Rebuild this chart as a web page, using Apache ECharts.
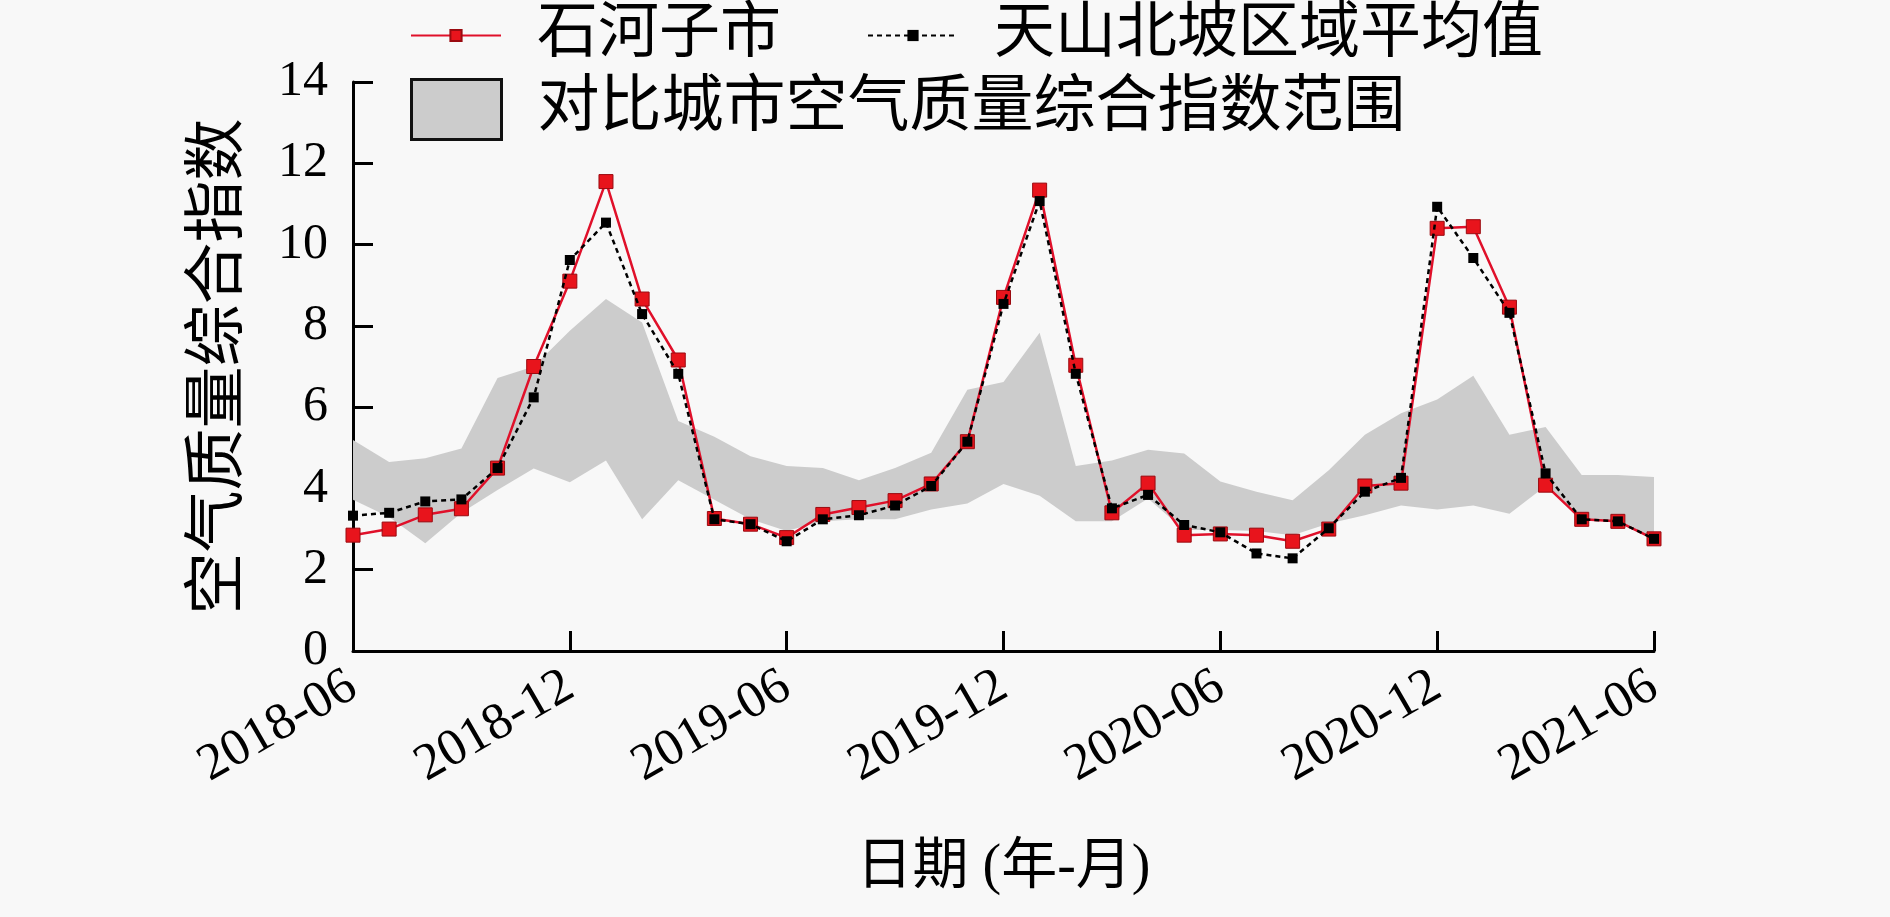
<!DOCTYPE html>
<html>
<head>
<meta charset="utf-8">
<script src="https://cdn.jsdelivr.net/npm/echarts@6/dist/echarts.min.js"></script>
<style>
html,body{margin:0;padding:0;background:#f8f8f8;}
#main{width:1890px;height:917px;}
</style>
</head>
<body>
<div id="main"></div>
<script>
const months = [
  '2018-06','2018-07','2018-08','2018-09','2018-10','2018-11','2018-12',
  '2019-01','2019-02','2019-03','2019-04','2019-05','2019-06',
  '2019-07','2019-08','2019-09','2019-10','2019-11','2019-12',
  '2020-01','2020-02','2020-03','2020-04','2020-05','2020-06',
  '2020-07','2020-08','2020-09','2020-10','2020-11','2020-12',
  '2021-01','2021-02','2021-03','2021-04','2021-05','2021-06'
];
const shihezi = [
  2.85, 3.00, 3.35, 3.50, 4.50, 7.00, 9.10,
  11.55, 8.66, 7.16, 3.26, 3.12, 2.79,
  3.36, 3.53, 3.70, 4.11, 5.15, 8.70,
  11.34, 7.03, 3.40, 4.13, 2.85, 2.88,
  2.85, 2.70, 3.00, 4.06, 4.13, 10.40,
  10.44, 8.46, 4.08, 3.24, 3.19, 2.76
];
const tianshanAvg = [
  3.33, 3.40, 3.68, 3.73, 4.50, 6.24, 9.62,
  10.54, 8.29, 6.82, 3.24, 3.12, 2.70,
  3.24, 3.34, 3.58, 4.06, 5.15, 8.54,
  11.07, 6.82, 3.51, 3.84, 3.10, 2.92,
  2.40, 2.28, 3.02, 3.92, 4.26, 10.93,
  9.67, 8.32, 4.37, 3.24, 3.19, 2.76
];
const rangeUpper = [
  5.19, 4.65, 4.74, 4.98, 6.72, 7.00, 7.88,
  8.66, 8.08, 5.66, 5.27, 4.79, 4.55,
  4.50, 4.20, 4.50, 4.88, 6.43, 6.62,
  7.83, 4.55, 4.69, 4.95, 4.86, 4.17,
  3.92, 3.71, 4.45, 5.32, 5.85, 6.19,
  6.77, 5.32, 5.51, 4.33, 4.33, 4.28
];
const rangeLower = [
  3.72, 3.30, 2.65, 3.40, 3.96, 4.49, 4.15,
  4.69, 3.24, 4.20, 3.72, 3.24, 2.95,
  3.19, 3.24, 3.24, 3.48, 3.63, 4.11,
  3.82, 3.19, 3.19, 3.75, 2.98, 2.98,
  2.95, 2.85, 3.14, 3.34, 3.58, 3.48,
  3.58, 3.38, 4.06, 3.24, 3.19, 2.76
];
const yTicks = { min: 0, max: 14, interval: 2 };

const bandHeight = rangeUpper.map((u, i) => +(u - rangeLower[i]).toFixed(2));

const FONT = '"Liberation Serif", "Noto Sans CJK SC", serif';
const chart = echarts.init(document.getElementById('main'), null, {renderer: 'canvas'});
chart.setOption({
  backgroundColor: '#f8f8f8',
  animation: false,
  textStyle: {fontFamily: FONT, color: '#000'},
  grid: {left: 353, top: 82, width: 1301, height: 569, containLabel: false},
  legend: [
    {
      data: ['石河子市', '天山北坡区域平均值'],
      left: 410, top: 5, padding: 0,
      itemWidth: 90, itemHeight: 14, itemGap: 86,
      textStyle: {fontSize: 61, fontFamily: FONT, color: '#000', padding: [0, 0, 0, 31]}
    },
    {
      data: [{name: '对比城市空气质量综合指数范围', icon: 'rect',
              itemStyle: {color: '#cccccc', borderColor: '#111', borderWidth: 3}}],
      left: 410, top: 78, padding: 0,
      itemWidth: 90, itemHeight: 60,
      textStyle: {fontSize: 62, fontFamily: FONT, color: '#000', padding: [0, 0, 0, 31]}
    }
  ],
  xAxis: {
    type: 'category',
    data: months,
    boundaryGap: false,
    name: '日期 (年-月)',
    nameLocation: 'middle',
    nameGap: 189,
    nameTextStyle: {fontSize: 56, fontFamily: FONT, color: '#000'},
    axisLine: {lineStyle: {color: '#000', width: 3}},
    axisTick: {inside: true, length: 20, interval: 5, lineStyle: {color: '#000', width: 3}},
    axisLabel: {interval: 5, rotate: 30, fontSize: 52, fontFamily: FONT, color: '#000',
                margin: 32},
    splitLine: {show: false}
  },
  yAxis: {
    type: 'value',
    min: yTicks.min, max: yTicks.max, interval: yTicks.interval,
    name: '空气质量综合指数',
    nameLocation: 'middle',
    nameGap: 101,
    nameTextStyle: {fontSize: 62, fontFamily: FONT, color: '#000'},
    axisLine: {show: true, lineStyle: {color: '#000', width: 3}},
    axisTick: {show: true, inside: true, length: 20, lineStyle: {color: '#000', width: 3}},
    axisLabel: {fontSize: 50, fontFamily: FONT, color: '#000', margin: 25},
    splitLine: {show: false}
  },
  series: [
    {
      name: 'rangeLower',
      type: 'line',
      data: rangeLower,
      stack: 'band',
      symbol: 'none',
      lineStyle: {opacity: 0},
      silent: true,
      z: 1
    },
    {
      name: '对比城市空气质量综合指数范围',
      type: 'line',
      data: bandHeight,
      stack: 'band',
      symbol: 'none',
      lineStyle: {opacity: 0},
      itemStyle: {color: '#cccccc'},
      areaStyle: {color: '#cccccc', opacity: 1},
      silent: true,
      z: 1
    },
    {
      name: '石河子市',
      type: 'line',
      data: shihezi,
      symbol: 'rect',
      symbolSize: 14,
      lineStyle: {color: '#e0102a', width: 2.5},
      itemStyle: {color: '#e8141c', borderColor: '#9a0a10', borderWidth: 1},
      z: 3
    },
    {
      name: '天山北坡区域平均值',
      type: 'line',
      data: tianshanAvg,
      symbol: 'rect',
      symbolSize: 10,
      lineStyle: {color: '#000', width: 2.5, type: [5, 4]},
      itemStyle: {color: '#000'},
      z: 4
    }
  ]
});
</script>
</body>
</html>
